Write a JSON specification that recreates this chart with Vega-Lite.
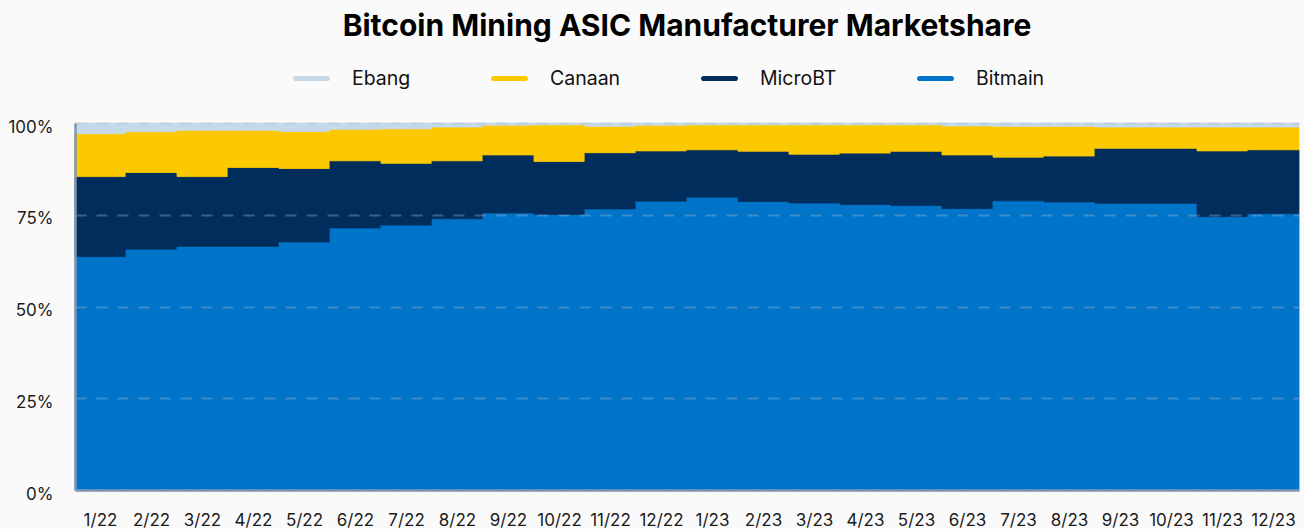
{
  "$schema": "https://vega.github.io/schema/vega-lite/v6.json",
  "width": 1224,
  "height": 367,
  "autosize": {"type": "none"},
  "padding": {"left": 75, "top": 123, "right": 5, "bottom": 39},
  "background": "#fafafa",
  "title": {
    "text": "Bitcoin Mining ASIC Manufacturer Marketshare",
    "font": "Inter",
    "fontSize": 30,
    "fontWeight": 700,
    "color": "#000000",
    "anchor": "middle",
    "offset": 18
  },
  "config": {
    "view": {"stroke": null},
    "font": "Inter"
  },
  "data": {
    "values": [
      {"month": "1/22", "company": "Bitmain", "share": 63.6}, {"month": "1/22", "company": "MicroBT", "share": 21.8}, {"month": "1/22", "company": "Canaan", "share": 11.7}, {"month": "1/22", "company": "Ebang", "share": 2.9},
      {"month": "2/22", "company": "Bitmain", "share": 65.6}, {"month": "2/22", "company": "MicroBT", "share": 20.9}, {"month": "2/22", "company": "Canaan", "share": 11.1}, {"month": "2/22", "company": "Ebang", "share": 2.4},
      {"month": "3/22", "company": "Bitmain", "share": 66.4}, {"month": "3/22", "company": "MicroBT", "share": 19.0}, {"month": "3/22", "company": "Canaan", "share": 12.6}, {"month": "3/22", "company": "Ebang", "share": 2.0},
      {"month": "4/22", "company": "Bitmain", "share": 66.4}, {"month": "4/22", "company": "MicroBT", "share": 21.5}, {"month": "4/22", "company": "Canaan", "share": 10.1}, {"month": "4/22", "company": "Ebang", "share": 2.0},
      {"month": "5/22", "company": "Bitmain", "share": 67.6}, {"month": "5/22", "company": "MicroBT", "share": 20.0}, {"month": "5/22", "company": "Canaan", "share": 10.1}, {"month": "5/22", "company": "Ebang", "share": 2.3},
      {"month": "6/22", "company": "Bitmain", "share": 71.4}, {"month": "6/22", "company": "MicroBT", "share": 18.3}, {"month": "6/22", "company": "Canaan", "share": 8.6}, {"month": "6/22", "company": "Ebang", "share": 1.7},
      {"month": "7/22", "company": "Bitmain", "share": 72.2}, {"month": "7/22", "company": "MicroBT", "share": 16.8}, {"month": "7/22", "company": "Canaan", "share": 9.4}, {"month": "7/22", "company": "Ebang", "share": 1.6},
      {"month": "8/22", "company": "Bitmain", "share": 73.9}, {"month": "8/22", "company": "MicroBT", "share": 15.8}, {"month": "8/22", "company": "Canaan", "share": 9.2}, {"month": "8/22", "company": "Ebang", "share": 1.1},
      {"month": "9/22", "company": "Bitmain", "share": 75.5}, {"month": "9/22", "company": "MicroBT", "share": 15.8}, {"month": "9/22", "company": "Canaan", "share": 8.1}, {"month": "9/22", "company": "Ebang", "share": 0.6},
      {"month": "10/22", "company": "Bitmain", "share": 75.1}, {"month": "10/22", "company": "MicroBT", "share": 14.4}, {"month": "10/22", "company": "Canaan", "share": 10.0}, {"month": "10/22", "company": "Ebang", "share": 0.5},
      {"month": "11/22", "company": "Bitmain", "share": 76.6}, {"month": "11/22", "company": "MicroBT", "share": 15.3}, {"month": "11/22", "company": "Canaan", "share": 7.2}, {"month": "11/22", "company": "Ebang", "share": 0.9},
      {"month": "12/22", "company": "Bitmain", "share": 78.7}, {"month": "12/22", "company": "MicroBT", "share": 13.7}, {"month": "12/22", "company": "Canaan", "share": 7.0}, {"month": "12/22", "company": "Ebang", "share": 0.6},
      {"month": "1/23", "company": "Bitmain", "share": 79.8}, {"month": "1/23", "company": "MicroBT", "share": 12.9}, {"month": "1/23", "company": "Canaan", "share": 6.8}, {"month": "1/23", "company": "Ebang", "share": 0.5},
      {"month": "2/23", "company": "Bitmain", "share": 78.6}, {"month": "2/23", "company": "MicroBT", "share": 13.7}, {"month": "2/23", "company": "Canaan", "share": 7.2}, {"month": "2/23", "company": "Ebang", "share": 0.5},
      {"month": "3/23", "company": "Bitmain", "share": 78.2}, {"month": "3/23", "company": "MicroBT", "share": 13.3}, {"month": "3/23", "company": "Canaan", "share": 8.0}, {"month": "3/23", "company": "Ebang", "share": 0.5},
      {"month": "4/23", "company": "Bitmain", "share": 77.8}, {"month": "4/23", "company": "MicroBT", "share": 14.0}, {"month": "4/23", "company": "Canaan", "share": 7.7}, {"month": "4/23", "company": "Ebang", "share": 0.5},
      {"month": "5/23", "company": "Bitmain", "share": 77.5}, {"month": "5/23", "company": "MicroBT", "share": 14.8}, {"month": "5/23", "company": "Canaan", "share": 7.2}, {"month": "5/23", "company": "Ebang", "share": 0.5},
      {"month": "6/23", "company": "Bitmain", "share": 76.7}, {"month": "6/23", "company": "MicroBT", "share": 14.6}, {"month": "6/23", "company": "Canaan", "share": 7.9}, {"month": "6/23", "company": "Ebang", "share": 0.8},
      {"month": "7/23", "company": "Bitmain", "share": 78.8}, {"month": "7/23", "company": "MicroBT", "share": 11.9}, {"month": "7/23", "company": "Canaan", "share": 8.4}, {"month": "7/23", "company": "Ebang", "share": 0.9},
      {"month": "8/23", "company": "Bitmain", "share": 78.5}, {"month": "8/23", "company": "MicroBT", "share": 12.5}, {"month": "8/23", "company": "Canaan", "share": 8.1}, {"month": "8/23", "company": "Ebang", "share": 0.9},
      {"month": "9/23", "company": "Bitmain", "share": 78.1}, {"month": "9/23", "company": "MicroBT", "share": 15.0}, {"month": "9/23", "company": "Canaan", "share": 5.8}, {"month": "9/23", "company": "Ebang", "share": 1.1},
      {"month": "10/23", "company": "Bitmain", "share": 78.1}, {"month": "10/23", "company": "MicroBT", "share": 15.0}, {"month": "10/23", "company": "Canaan", "share": 5.8}, {"month": "10/23", "company": "Ebang", "share": 1.1},
      {"month": "11/23", "company": "Bitmain", "share": 74.5}, {"month": "11/23", "company": "MicroBT", "share": 17.9}, {"month": "11/23", "company": "Canaan", "share": 6.5}, {"month": "11/23", "company": "Ebang", "share": 1.1},
      {"month": "12/23", "company": "Bitmain", "share": 75.3}, {"month": "12/23", "company": "MicroBT", "share": 17.4}, {"month": "12/23", "company": "Canaan", "share": 6.2}, {"month": "12/23", "company": "Ebang", "share": 1.1}
    ]
  },
  "transform": [
    {"calculate": "indexof(['Bitmain','MicroBT','Canaan','Ebang'], datum.company)", "as": "stackOrder"}
  ],
  "mark": {"type": "bar", "strokeWidth": 0.8},
  "encoding": {
    "x": {
      "field": "month",
      "type": "ordinal",
      "sort": null,
      "scale": {"paddingInner": 0, "paddingOuter": 0},
      "axis": {
        "title": null,
        "labelAngle": 0,
        "labelFont": "Inter",
        "labelFontSize": 17,
        "labelColor": "#1a1a1a",
        "labelPadding": 22,
        "ticks": false,
        "domain": true,
        "domainColor": "#7f97b3",
        "domainWidth": 2.5,
        "grid": false,
        "zindex": 1
      }
    },
    "y": {
      "field": "share",
      "type": "quantitative",
      "stack": "zero",
      "scale": {"domain": [0, 100], "nice": false},
      "axis": {
        "title": null,
        "values": [0, 25, 50, 75, 100],
        "labelExpr": "datum.value + '%'",
        "labelFont": "Inter",
        "labelFontSize": 17,
        "labelColor": "#1a1a1a",
        "labelPadding": 22,
        "labelOffset": 4,
        "ticks": false,
        "domainColor": "#7f97b3",
        "domainWidth": 2.5,
        "grid": true,
        "gridColor": "#a9bdd6",
        "gridOpacity": 0.35,
        "gridDash": [11, 10],
        "gridWidth": 2,
        "zindex": 1
      }
    },
    "color": {
      "field": "company",
      "type": "nominal",
      "scale": {
        "domain": ["Ebang", "Canaan", "MicroBT", "Bitmain"],
        "range": ["#c6d9e8", "#fcc900", "#002d5c", "#0074c8"]
      },
      "legend": {
        "title": null,
        "orient": "none",
        "direction": "horizontal",
        "legendX": 218,
        "legendY": -63,
        "padding": 0,
        "columnPadding": 80,
        "labelFont": "Inter",
        "labelFontSize": 19.5,
        "labelColor": "#111111",
        "labelOffset": 22,
        "symbolType": "M-0.86,-0.14 L0.86,-0.14 A0.14,0.14 0 0 1 0.86,0.14 L-0.86,0.14 A0.14,0.14 0 0 1 -0.86,-0.14 Z",
        "symbolSize": 1369,
        "symbolStrokeWidth": 0,
        "symbolOpacity": 1
      }
    },
    "stroke": {
      "field": "company",
      "type": "nominal",
      "scale": {
        "domain": ["Ebang", "Canaan", "MicroBT", "Bitmain"],
        "range": ["#c6d9e8", "#fcc900", "#002d5c", "#0074c8"]
      },
      "legend": null
    },
    "order": {"field": "stackOrder", "type": "quantitative"}
  }
}
